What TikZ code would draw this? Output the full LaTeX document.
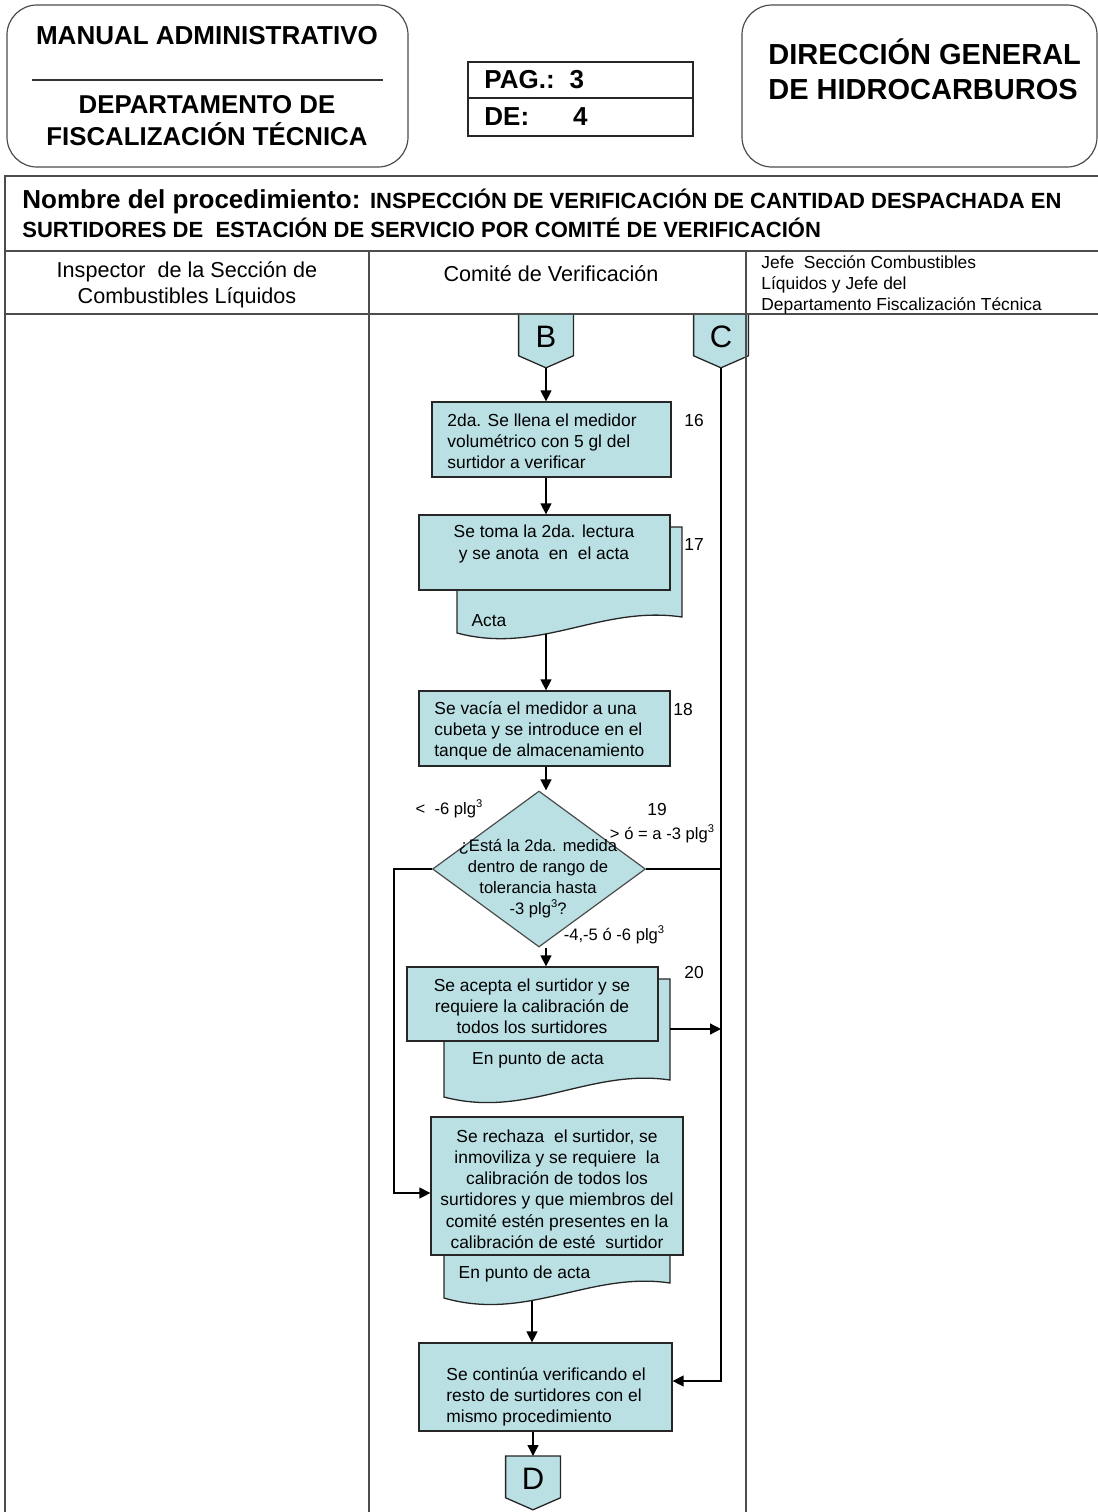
\documentclass[tikz,border=0pt]{standalone}
\usepackage{fontspec}
\setmainfont{Liberation Sans}
\usetikzlibrary{shapes.geometric,arrows.meta}
\definecolor{boxfill}{RGB}{186,224,228}
\definecolor{rule}{RGB}{77,77,77}
\pgfdeclarelayer{bg}
\pgfsetlayers{bg,main}
% small raised "3" for cubic inches
\newcommand\cubinch{\raisebox{0.42em}{\fontsize{5.6}{5.6}\selectfont 3}}
\begin{document}
\begin{tikzpicture}[x=0.5pt,y=-0.5pt,
  frame/.style={draw=rule, line width=1pt},
  hbox/.style={draw=black!70, line width=0.6pt, rounded corners=15pt},
  proc/.style={draw=black!85, fill=boxfill, line width=0.65pt, inner sep=0pt},
  docsh/.style={draw=black!85, fill=boxfill, line width=0.65pt},
  conn/.style={inner sep=0pt, minimum width=27pt, minimum height=26.5pt,
    font=\fontsize{15.5}{15.5}\selectfont, text depth=4.5pt},
  connshape/.style={draw=black!85, fill=boxfill, line width=0.65pt},
  btxt/.style={font=\fontsize{8.7}{10.6}\selectfont, inner sep=0pt},
  dtxt/.style={font=\fontsize{8.3}{10.5}\selectfont, inner sep=0pt},
  num/.style={font=\fontsize{8.7}{10}\selectfont, inner sep=0pt},
  flow/.style={line width=0.7pt},
  arr/.style={flow, -{Triangle[length=5.5pt,width=5.5pt]}},
]
\useasboundingbox (0,0) rectangle (1098,1512);

% ---------- page header ----------
\draw[hbox] (7,5) rectangle (408,167);
\node[font=\fontsize{13}{13}\selectfont\bfseries, inner sep=0pt] (manual) at (207,36) {MANUAL ADMINISTRATIVO};
\draw[line width=0.6pt, black!80] (32,80) -- (383,80);
\node[font=\fontsize{12.9}{16}\selectfont\bfseries, align=center, inner sep=0pt] (depto) at (207,121)
  {DEPARTAMENTO DE\\FISCALIZACIÓN TÉCNICA};

\draw[line width=0.6pt, black!85] (468,62) rectangle (693,98);
\draw[line width=0.6pt, black!85] (468,98) rectangle (693,136);
\node[font=\fontsize{13}{13}\selectfont\bfseries, inner sep=0pt, anchor=west] (pag) at (484,80) {PAG.:\hspace{7.5pt}3};
\node[font=\fontsize{13}{13}\selectfont\bfseries, inner sep=0pt, anchor=west] (de) at (484,117) {DE:\hspace{22pt}4};

\draw[hbox] (742,5) rectangle (1097,167);
\node[font=\fontsize{14.5}{17.5}\selectfont\bfseries, align=left, inner sep=0pt, anchor=west] (dgh) at (768,69.5)
  {DIRECCIÓN GENERAL\\DE HIDROCARBUROS};

% ---------- procedure table ----------
\draw[frame] (1098,176) -- (5,176) -- (5,1512);
\draw[frame] (5,251) -- (1098,251);
\draw[frame] (5,314) -- (1098,314);
\draw[frame] (369,251) -- (369,1512);
\draw[frame] (746,251) -- (746,1512);

\node[inner sep=0pt, anchor=base west] (title1) at (22,208)
  {\fontsize{13}{13}\selectfont\bfseries Nombre del procedimiento: \fontsize{11}{11}\selectfont INSPECCIÓN DE VERIFICACIÓN DE CANTIDAD DESPACHADA EN};
\node[inner sep=0pt, anchor=base west, font=\fontsize{11}{11}\selectfont\bfseries] (title2) at (22,237)
  {SURTIDORES DE\ \ ESTACIÓN DE SERVICIO POR COMITÉ DE VERIFICACIÓN};

\node[font=\fontsize{10.8}{13}\selectfont, align=center, inner sep=0pt] (lane1) at (187,285)
  {Inspector\ \ de la Sección de\\Combustibles Líquidos};
\node[font=\fontsize{10.8}{13}\selectfont, inner sep=0pt] (lane2) at (551,274) {Comité de Verificación};
\node[font=\fontsize{8.7}{10.5}\selectfont, align=left, inner sep=0pt, anchor=west] (lane3) at (761,285)
  {Jefe\ \ Sección Combustibles\\Líquidos y Jefe del\\Departamento Fiscalización Técnica};

% ---------- off-page connectors ----------
\node[conn, anchor=north] (B) at (546,314) {B};
\node[conn, anchor=north] (C) at (721,314) {C};
\node[conn, anchor=north] (D) at (533,1456) {D};
\begin{pgfonlayer}{bg}
  \foreach \c in {B,C,D}
    \draw[connshape] (\c.north west) -- (\c.north east) -- ([yshift=6pt]\c.south east)
      -- (\c.south) -- ([yshift=6pt]\c.south west) -- cycle;
\end{pgfonlayer}

% ---------- step 16 ----------
\node[proc, minimum width=119.5pt, minimum height=37.5pt] (b16) at (551.5,439.5) {};
\node[btxt, align=left, anchor=west] (t16) at (447,441)
  {2da. Se llena el medidor\\volumétrico con 5 gl del\\surtidor a verificar};
\node[num] (n16) at (694,420) {16};

% ---------- step 17 (with document) ----------
\draw[docsh] (457,527) -- (682,527) -- (682,617) .. controls (600,605) and (540,655) .. (457,633) -- cycle;
\coordinate (d17b) at (546,634);
\node[btxt] (acta17) at (489,621) {Acta};
\node[proc, minimum width=125.5pt, minimum height=37.5pt] (b17) at (544.5,552.5) {};
\node[btxt, align=center] (t17) at (544,544) {Se toma la 2da. lectura\\y se anota\ \ en\ \ el acta};
\node[num] (n17) at (694,545) {17};

% ---------- step 18 ----------
\node[proc, minimum width=125.5pt, minimum height=37.5pt] (b18) at (544.5,728.5) {};
\node[btxt, align=left, anchor=west] (t18) at (434,731)
  {Se vacía el medidor a una\\cubeta y se introduce en el\\tanque de almacenamiento};
\node[num] (n18) at (683,709) {18};

% ---------- decision 19 ----------
\node[diamond, draw=black!70, fill=boxfill, line width=0.6pt, inner sep=0pt,
  minimum width=106.5pt, minimum height=78pt] (dia) at (539,869) {};
\node[dtxt, align=center] (tdia) at (538,879)
  {¿Está la 2da. medida\\dentro de rango de\\tolerancia hasta\\-3 plg\cubinch?};
\node[num] (n19) at (657,809) {19};
\node[dtxt] (lblt) at (449,809) {<\ \ -6 plg\cubinch};
\node[dtxt] (lblr) at (662,834) {> ó = a -3 plg\cubinch};
\node[dtxt] (lblb) at (614,935) {-4,-5 ó -6 plg\cubinch};

% ---------- step 20 (with document) ----------
\draw[docsh] (444,979) -- (670,979) -- (670,1080) .. controls (590,1068) and (527,1119) .. (444,1097) -- cycle;
\coordinate (d20r) at (670,1029);
\node[btxt] (acta20) at (538,1060) {En punto de acta};
\node[proc, minimum width=125.5pt, minimum height=37pt] (b20) at (532.5,1004) {};
\node[btxt, align=center] (t20) at (532,1006)
  {Se acepta el surtidor y se\\requiere la calibración de\\todos los surtidores};
\node[num] (n20) at (694,972) {20};

% ---------- rejection step (with document) ----------
\draw[docsh] (444,1240) -- (670,1240) -- (670,1283) .. controls (590,1271) and (527,1322) .. (444,1298) -- cycle;
\coordinate (d21b) at (532,1301);
\node[btxt] (acta21) at (524.5,1274) {En punto de acta};
\node[proc, minimum width=126pt, minimum height=69pt] (b21) at (557,1186) {};
\node[btxt, align=center] (t21) at (557,1189)
  {Se rechaza\ \ el surtidor, se\\inmoviliza y se requiere\ \ la\\calibración de todos los\\surtidores y que miembros del\\comité estén presentes en la\\calibración de esté\ \ surtidor};

% ---------- final step ----------
\node[proc, minimum width=126.5pt, minimum height=44pt] (b22) at (545.5,1387) {};
\node[btxt, align=left, anchor=west] (t22) at (446,1397)
  {Se continúa verificando el\\resto de surtidores con el\\mismo procedimiento};

% ---------- connectors ----------
\coordinate (lx) at (394,1193);
\draw[arr] (B.south) -- (b16.north -| B.south);
\draw[arr] (b16.south -| B.south) -- (b17.north -| B.south);
\draw[arr] (d17b) -- (b18.north -| d17b);
\draw[arr] (b18.south -| B.south) -- (dia.north -| B.south);
\draw[arr] (dia.south -| B.south) -- (b20.north -| B.south);
\draw[flow] (dia.east) -- (dia.east -| C.south);
\draw[arr] (dia.west) -| (lx) -- (lx -| b21.west);
\draw[arr] (d20r) -- (d20r -| C.south);
\draw[arr] (C.south) |- ([yshift=3pt]b22.east);
\draw[arr] (d21b) -- (b22.north -| d21b);
\draw[arr] (b22.south -| D.north) -- (D.north);
\end{tikzpicture}
\end{document}
